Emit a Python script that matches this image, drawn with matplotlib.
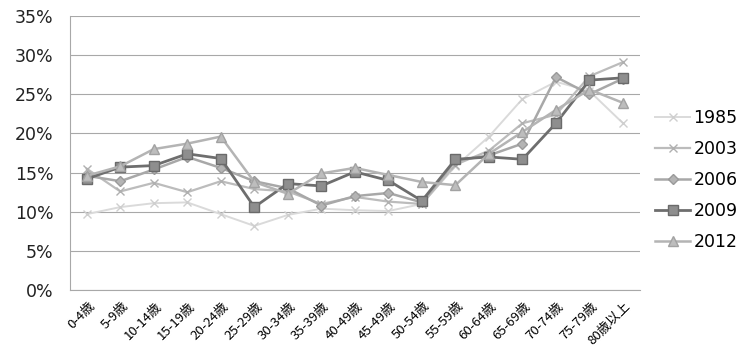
import numpy as np
import matplotlib
matplotlib.use("Agg")
import matplotlib.pyplot as plt
import matplotlib.transforms as mtransforms
from matplotlib.ticker import PercentFormatter

# age groups on the x axis
age_groups = ["0-4歳", "5-9歳", "10-14歳", "15-19歳", "20-24歳", "25-29歳",
              "30-34歳", "35-39歳", "40-49歳", "45-49歳", "50-54歳", "55-59歳",
              "60-64歳", "65-69歳", "70-74歳", "75-79歳", "80歳以上"]

# share per age group (%), one list per survey year
y1985 = [9.7, 10.6, 11.1, 11.2, 9.7, 8.2, 9.6, 10.4, 10.2, 10.1, 11.0,
         15.8, 19.6, 24.4, 26.6, 25.4, 21.3]
y2003 = [15.5, 12.6, 13.7, 12.5, 13.9, 12.9, 12.6, 11.0, 11.9, 11.3, 11.0,
         16.0, 17.8, 21.3, 22.4, 27.3, 29.1]
y2006 = [14.6, 13.9, 15.4, 17.0, 15.6, 13.9, 13.0, 10.8, 12.0, 12.4, 11.2,
         16.5, 17.2, 18.7, 27.2, 25.0, 27.0]
y2009 = [14.2, 15.7, 15.9, 17.4, 16.8, 10.6, 13.6, 13.3, 15.1, 14.0, 11.4,
         16.7, 17.0, 16.7, 21.3, 26.8, 27.1]
y2012 = [14.6, 15.8, 18.0, 18.7, 19.6, 13.8, 12.3, 14.9, 15.6, 14.7, 13.8,
         13.4, 17.4, 20.2, 23.0, 25.6, 23.9]

years = ["1985", "2003", "2006", "2009", "2012"]
series = [y1985, y2003, y2006, y2009, y2012]

styles = {
    "1985": dict(color="#dadada", marker="x", ms=6, mfc="#dadada", mec="#cfcfcf", lw=1.4),
    "2003": dict(color="#bcbcbc", marker="x", ms=6, mfc="#bcbcbc", mec="#b0b0b0", lw=1.6),
    "2006": dict(color="#a8a8a8", marker="D", ms=5, mfc="#b4b4b4", mec="#9a9a9a", lw=1.8),
    "2009": dict(color="#6e6e6e", marker="s", ms=7, mfc="#8e8e8e", mec="#6a6a6a", lw=2.0),
    "2012": dict(color="#b4b4b4", marker="^", ms=7, mfc="#bdbdbd", mec="#a2a2a2", lw=1.8),
}

fig = plt.figure(figsize=(7.39, 3.53), dpi=100)
ax = fig.add_axes([0.0947, 0.178, 0.771, 0.777])

x = np.arange(len(age_groups))
for year, vals in zip(years, series):
    ax.plot(x, vals, label=year, **styles[year])

ax.set_xlim(-0.5, len(age_groups) - 0.5)
ax.set_ylim(0, 35)
ax.set_yticks(np.arange(0, 36, 5))
ax.yaxis.set_major_formatter(PercentFormatter(decimals=0))
ax.yaxis.grid(True, color="#a8a8a8", lw=0.8)
ax.set_axisbelow(True)

for side in ["top", "right"]:
    ax.spines[side].set_visible(False)
ax.spines["left"].set_color("#a8a8a8")
ax.spines["bottom"].set_color("#a8a8a8")
ax.spines["left"].set_linewidth(0.8)
ax.spines["bottom"].set_linewidth(0.8)
ax.tick_params(length=0)
ax.tick_params(axis="y", labelsize=12.5, pad=12, labelcolor="#222222")

ax.set_xticks(x)
ax.set_xticklabels(age_groups, rotation=45, ha="right", va="center",
                   rotation_mode="anchor",
                   family=["Noto Sans CJK JP", "DejaVu Sans"], fontsize=9.5)
ax.tick_params(axis="x", pad=10)
shift = mtransforms.ScaledTranslation(6 / 100, 0, fig.dpi_scale_trans)
for lbl in ax.get_xticklabels():
    lbl.set_transform(lbl.get_transform() + shift)

ax.legend(loc="center left", bbox_to_anchor=(1.0, 0.40), frameon=False,
          fontsize=12.5, handlelength=2.0, handletextpad=0.2, labelspacing=0.75)

fig.savefig("out.png", dpi=100)
